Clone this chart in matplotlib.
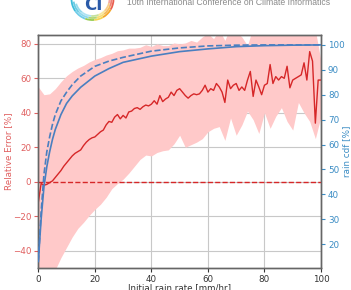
import matplotlib
matplotlib.use("Agg")
import matplotlib.pyplot as plt
from matplotlib.patches import Arc

# ---- data ----
cdf_x = [0, 1, 2, 3, 4, 5, 6, 8, 10, 12, 15, 20, 25, 30, 40, 50, 60, 70, 80, 90, 100]
cdf_solid = [13, 30, 43, 51, 57, 62, 66, 72, 76.5, 79.5, 83, 87.5, 90.5, 93, 95.5, 97.3, 98.4, 99.3, 99.7, 99.9, 100]
cdf_dashed = [13, 33, 48, 57, 63, 68, 72, 77.5, 81, 84, 87.5, 91.4, 93.5, 95, 97.5, 98.8, 99.6, 99.9, 100, 100, 100]

err_x = list(range(0, 101))
err_mean = [-12, -1, -2, -1.5, -0.5, 0.5, 2.5, 4.5, 6.5, 9, 11, 13, 15, 16.5, 17.5, 18.5, 21, 23, 24.5, 25.5,
            26, 27.5, 29, 30, 33, 35, 34.5, 37.5, 39, 36.5, 38.5, 37, 40.5, 41, 42.5, 43, 42, 43.5, 44.5, 44,
            45, 47, 45, 50, 46.5, 48, 49, 52, 50, 53, 54, 52, 50, 48.5, 50, 51, 50.5, 51, 53, 56,
            52, 54, 53, 57, 55, 52, 46, 59, 54, 56, 57, 53, 55, 53, 59, 64, 49.5, 59, 55, 50.5,
            56, 57, 68, 57, 61, 59, 61, 60, 67, 54.5, 59, 60, 61, 62, 69, 59, 75.5, 70, 34, 59, 59]

band_x = list(range(0, 101, 2))
band_upper = [55, 50.5, 51, 54, 58, 61.5, 64, 66, 67.5, 69.5, 71, 72, 73.5, 74.5, 76, 76.5, 77.5, 77.5, 78, 79.5,
              78.5, 80, 79, 79, 80.5, 80, 80.5, 82, 81, 84, 86, 83, 88, 82, 90, 87, 84, 79, 90, 88,
              86, 92, 88, 90, 86, 91, 85, 95, 92, 88, 70]
band_lower = [-60, -60, -60, -51, -44, -38, -32, -27, -23.5, -19.5, -16, -13, -9, -4, -1, 1.5, 5, 9, 13, 15.5,
              15, 17, 18, 18.5, 22, 27, 20, 21.5, 23, 25, 29, 31, 32, 24, 37, 27, 33, 41, 36, 28,
              40, 31, 38, 43, 35, 30, 46, 40, 35, 25, 38]

left_ticks = [-40, -20, 0, 20, 40, 60, 80]
right_ticks = [20, 30, 40, 50, 60, 70, 80, 90, 100]
x_ticks = [0, 20, 40, 60, 80, 100]

header = "10th International Conference on Climate Informatics"

red = "#d62728"
red_lab = "#e06060"
blue = "#4a7fc0"
blue_lab = "#3a8cc4"
FS = 6.3

W, H = 351, 290
fig = plt.figure(figsize=(W / 100, H / 100), dpi=100)
L, R, T, B = 38.3, 321.0, 34.7, 268.0
ax = fig.add_axes([L / W, 1 - B / H, (R - L) / W, (B - T) / H])

ax.fill_between(band_x, band_lower, band_upper, color="#ffc9c9", linewidth=0, zorder=1)
ax.plot(err_x, err_mean, color=red, lw=1.0, zorder=3)
ax.axhline(0, color=red, lw=1.0, ls="--", zorder=3)
ax.set_xlim(0, 100)
ax.set_ylim(-50, 85.3)
ax.set_xticks(x_ticks)
ax.set_yticks(left_ticks)
ax.grid(True, color="#c8c8c8", lw=0.8)
ax.set_axisbelow(True)
ax.tick_params(axis="y", colors=red_lab, labelsize=FS, length=3, pad=2)
ax.tick_params(axis="x", labelsize=FS, length=3, colors="#333333", pad=2)
ax.set_ylabel("Relative Error [%]", color=red_lab, fontsize=FS, va="center")
ax.yaxis.set_label_coords((8.5 - L) / (R - L), 0.5)
ax.set_xlabel("Initial rain rate [mm/hr]", fontsize=FS, color="#333333", va="top")
ax.xaxis.set_label_coords(0.5, -(283 - B) / (B - T))

ax2 = ax.twinx()
ax2.plot(cdf_x, cdf_solid, color=blue, lw=1.2, zorder=4)
ax2.plot(cdf_x, cdf_dashed, color=blue, lw=1.2, ls="--", zorder=4)
ax2.set_ylim(10.4, 104.1)
ax2.set_yticks(right_ticks)
ax2.tick_params(axis="y", colors=blue_lab, labelsize=FS, length=3, pad=2)
ax2.set_ylabel("rain cdf [%]", color=blue_lab, fontsize=FS, va="center")
ax2.yaxis.set_label_coords((346.5 - L) / (R - L), 0.5)

for a in (ax, ax2):
    for s in a.spines.values():
        s.set_color("#666666")
        s.set_linewidth(1.0)

# header (partially cut off at the top)
fig.text(127 / W, 1 - 5 / H, header, fontsize=6.2, family="Liberation Sans",
         color="#8a8a8a", va="baseline", ha="left")

# logo
lax = fig.add_axes([60 / W, 1 - 25 / H, 70 / W, 25 / H])
lax.set_xlim(60, 130)
lax.set_ylim(-25, 0)
lax.axis("off")
segs = [(180, 215, "#29b6d8"), (215, 250, "#5fc7e6"), (250, 275, "#8cc63f"),
        (275, 300, "#f4d03f"), (300, 330, "#f39c12"), (330, 360, "#e74c3c")]
for k, rr in enumerate([42, 38, 34]):
    for t1, t2, c in segs:
        lax.add_patch(Arc((92.5, 1), rr, rr, theta1=t1 + k * 8, theta2=t2 + k * 8,
                          color=c, lw=1.3, alpha=0.9 - k * 0.2))
lax.text(93, -5, "CI", color="#2a5aa8", fontsize=12, fontweight="bold",
         ha="center", va="center")

fig.savefig("out.png", dpi=100)
